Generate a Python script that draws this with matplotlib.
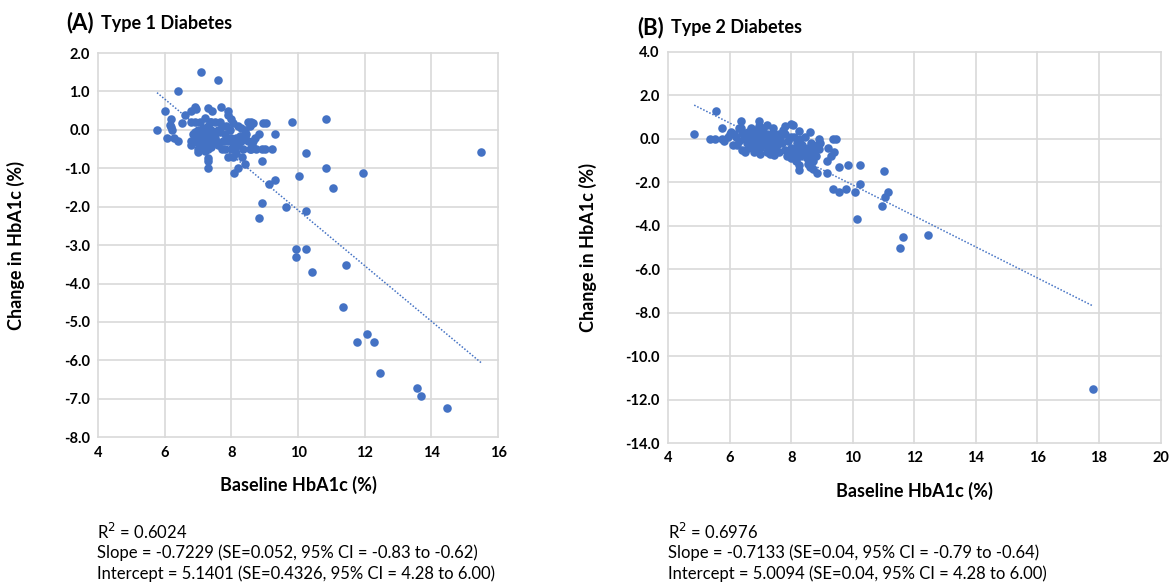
import matplotlib
matplotlib.use("Agg")
import matplotlib.pyplot as plt
import numpy as np

# ---------------- Data: Type 1 Diabetes ----------------
t1_baseline = [
    5.77, 6.0, 6.4, 7.09, 7.59, 6.18, 6.2, 6.15, 6.22, 6.08, 6.29, 6.4, 6.51, 6.6, 6.8, 6.9, 6.95,
    6.8, 6.9, 6.8, 6.8, 7.0, 7.29, 7.29, 7.29, 7.29, 7.41, 7.7, 7.91, 7.91, 8.0, 8.05, 7.4, 7.52,
    7.65, 7.71, 7.71, 7.91, 8.21, 8.31, 8.42, 8.19, 8.09, 8.66, 8.94, 9.04, 8.63, 8.73, 8.93, 9.22,
    8.93, 8.83, 9.32, 9.82, 10.23, 10.03, 9.32, 9.14, 8.92, 9.63, 10.23, 8.82, 10.84, 10.84, 11.95,
    11.04, 9.93, 10.23, 9.93, 10.43, 11.45, 11.35, 12.06, 11.76, 12.27, 12.47, 13.58, 13.68, 14.48,
    15.49,
    7.0, 7.05, 7.1, 7.15, 7.2, 7.25, 7.3, 7.35, 7.2, 7.1, 7.3, 7.4, 7.45, 7.5, 7.55, 7.4, 7.3, 7.2,
    7.0, 6.95, 6.9, 7.15, 7.6, 7.65, 7.8, 7.85, 7.9, 8.0, 8.05, 8.1, 8.2, 8.3, 8.35, 8.4, 8.5, 8.55,
    8.45, 8.55, 8.6, 8.5, 8.4, 8.25, 8.15, 8.0, 7.8, 7.75, 7.6, 7.85, 7.95, 8.3, 7.0, 6.85, 7.05,
    7.2, 7.35, 8.15, 8.05, 8.6, 8.65, 8.7, 9.0,
]
t1_change = [
    0.0, 0.5, 1.0, 1.5, 1.3, 0.29, 0.08, 0.12, 0.0, -0.2, -0.2, -0.3, 0.19, 0.4, 0.5, 0.6, 0.55,
    0.2, 0.2, -0.28, -0.39, -0.58, -0.72, -0.81, -1.0, 0.58, 0.5, 0.59, 0.5, 0.39, 0.29, 0.19, 0.2, 0.2,
    0.2, 0.09, -0.5, -0.71, 0.09, -0.71, -0.9, -1.0, -1.11, 0.19, 0.19, 0.19, -0.4, -0.5, -0.5, -0.5,
    -0.81, -0.1, -0.1, 0.2, -0.6, -1.2, -1.3, -1.4, -1.91, -2.0, -2.1, -2.3, 0.29, -1.0, -1.11,
    -1.5, -3.1, -3.1, -3.32, -3.71, -3.52, -4.62, -5.3, -5.52, -5.52, -6.32, -6.72, -6.93, -7.23,
    -0.57,
    0.0, -0.1, -0.2, 0.05, -0.05, -0.15, -0.25, -0.35, -0.4, -0.3, 0.1, 0.0, -0.1, -0.2, -0.3, -0.45, -0.5, -0.55,
    -0.35, -0.2, -0.05, -0.45, -0.4, -0.05, -0.1, -0.25, -0.3, -0.2, -0.35, -0.5, -0.4, -0.3, -0.5, -0.2, -0.3, -0.5,
    -0.1, 0.1, 0.2, 0.2, 0.0, -0.15, -0.2, -0.5, -0.5, -0.3, 0.0, 0.1, 0.0, 0.05, -0.5, -0.1, 0.2,
    0.3, 0.2, -0.6, -0.7, -0.5, -0.3, -0.2, -0.5,
]
t1_slope, t1_intercept = -0.7229, 5.1401
t1_stats = ["R$^2$ = 0.6024",
            "Slope = -0.7229 (SE=0.052, 95% CI = -0.83 to -0.62)",
            "Intercept = 5.1401 (SE=0.4326, 95% CI = 4.28 to 6.00)"]

# ---------------- Data: Type 2 Diabetes ----------------
t2_baseline = [
    4.85, 5.56, 5.35, 5.54, 5.76, 5.81, 5.76, 6.05, 6.13, 6.0, 6.37, 6.96, 6.37, 8.0, 8.05, 8.25,
    8.6, 7.8, 7.8, 8.27, 8.6, 8.7, 8.85, 9.17, 8.9, 8.95, 8.85, 8.9, 9.36, 9.46, 9.2, 9.3, 9.15,
    9.4, 9.55, 9.84, 10.25, 11.03, 10.24, 9.36, 9.55, 9.77, 10.06, 11.14, 11.06, 10.96, 10.15,
    11.63, 11.55, 12.44, 17.79,
    6.2, 6.3, 6.25, 6.4, 6.45, 6.5, 6.55, 6.6, 6.6, 6.65, 6.7, 6.75, 6.8, 6.8, 6.85, 6.9, 6.95,
    7.0, 7.0, 7.05, 7.1, 7.15, 7.2, 7.2, 7.25, 7.3, 7.35, 7.4, 7.45, 7.5, 7.55, 7.6, 7.65, 7.7,
    7.5, 7.3, 7.0, 6.5, 6.4, 6.7, 7.1, 7.4, 7.75, 7.8, 7.9, 7.85, 8.0, 8.1, 8.15, 8.0, 8.2, 8.3,
    8.35, 8.4, 8.5, 8.55, 8.6, 8.7, 8.65, 8.75, 8.8, 8.2, 8.1, 8.3, 8.45, 8.0, 7.9, 6.1, 6.3,
    5.95, 6.85, 7.25, 7.6, 7.45, 6.95, 7.2, 8.25, 8.55,
]
t2_change = [
    0.2, 1.3, 0.0, 0.0, 0.0, -0.1, 0.52, 0.3, 0.2, 0.2, 0.8, 0.8, 0.49, 0.7, 0.65, 0.34,
    0.3, 0.6, 0.2, -1.43, -1.28, -1.4, -1.58, -1.58, 0.0, -0.2, -0.3, -0.45, 0.0, 0.0, -0.4, -0.8, -1.0,
    -0.6, -1.3, -1.2, -1.2, -1.5, -2.09, -2.3, -2.47, -2.29, -2.47, -2.47, -2.7, -3.09, -3.7,
    -4.53, -5.02, -4.42, -11.52,
    0.1, -0.1, -0.3, -0.5, 0.2, 0.0, -0.2, -0.4, 0.3, 0.1, -0.1, -0.3, -0.6, 0.4, 0.2, 0.0, -0.2,
    -0.4, 0.3, 0.1, -0.1, -0.3, -0.6, 0.2, 0.0, -0.2, -0.4, 0.3, 0.1, -0.1, -0.3, 0.2, 0.0, -0.2,
    -0.5, -0.7, -0.7, -0.6, 0.3, 0.5, 0.5, 0.5, 0.4, -0.5, -0.6, -0.8, -0.9, -0.7, -1.0, -0.4, -0.5, -0.8,
    -0.3, -0.6, -0.9, -0.4, -0.7, -1.0, -0.2, -0.5, -0.8, -0.2, 0.1, 0.0, 0.1, 0.1, -0.1, -0.3, 0.5,
    0.1, -0.45, -0.45, -0.6, -0.75, 0.6, 0.65, -1.2, -1.15,
]
t2_slope, t2_intercept = -0.7133, 5.0094
t2_stats = ["R$^2$ = 0.6976",
            "Slope = -0.7133 (SE=0.04, 95% CI = -0.79 to -0.64)",
            "Intercept = 5.0094 (SE=0.04, 95% CI = 4.28 to 6.00)"]

BLUE = "#4472C4"
GRID = "#D9D9D9"
FONT = ["Lato", "DejaVu Sans"]
plt.rcParams["font.family"] = FONT

fig = plt.figure(figsize=(11.71, 5.83), dpi=100)
axA = fig.add_axes([0.0837, 0.250, 0.3416, 0.659])
axB = fig.add_axes([0.5705, 0.240, 0.4206, 0.671])


def style(ax, xs, ys, slope, intercept, xlim, ylim, xstep, ystep, ylabpad):
    ax.scatter(xs, ys, s=38, color=BLUE, zorder=3, linewidths=0)
    xl = np.array([min(xs), max(xs)])
    ax.plot(xl, slope * xl + intercept, linestyle=(0, (1, 1.2)), color=BLUE, lw=1.1, zorder=2)
    ax.set_xlim(*xlim)
    ax.set_ylim(*ylim)
    ax.set_xticks(np.arange(xlim[0], xlim[1] + 0.01, xstep))
    ax.set_yticks(np.arange(ylim[0], ylim[1] + 0.01, ystep))
    ax.set_xticklabels([f"{int(v)}" for v in ax.get_xticks()], fontsize=10.5, fontweight="bold")
    ax.set_yticklabels([f"{v:.1f}" for v in ax.get_yticks()], fontsize=10.5, fontweight="bold")
    ax.tick_params(length=0, pad=6)
    for sp in ax.spines.values():
        sp.set_visible(False)
    ax.grid(True, color=GRID, lw=1.2, zorder=0)
    ax.set_axisbelow(True)
    ax.set_xlabel("Baseline HbA1c (%)", fontsize=13, fontweight="bold", labelpad=12)
    ax.set_ylabel("Change in HbA1c (%)", fontsize=13, fontweight="bold", labelpad=ylabpad)


style(axA, t1_baseline, t1_change, t1_slope, t1_intercept, (4, 16), (-8, 2), 2, 1, 28)
style(axB, t2_baseline, t2_change, t2_slope, t2_intercept, (4, 20), (-14, 4), 2, 2, 20)

for gl in axA.get_ygridlines() + axA.get_xgridlines() + axB.get_ygridlines() + axB.get_xgridlines():
    gl.set_clip_on(False)

# Titles
fig.text(66 / 1171, 1 - 23 / 583, "(A)", fontsize=16, fontweight="bold", va="center", ha="left")
fig.text(101 / 1171, 1 - 23 / 583, "Type 1 Diabetes", fontsize=13, fontweight="bold", va="center", ha="left")
fig.text(637 / 1171, 1 - 28 / 583, "(B)", fontsize=16, fontweight="bold", va="center", ha="left")
fig.text(671 / 1171, 1 - 28 / 583, "Type 2 Diabetes", fontsize=13, fontweight="bold", va="center", ha="left")

# Stats text
for x0, lines in [(97, t1_stats), (668, t2_stats)]:
    for i, line in enumerate(lines):
        fig.text(x0 / 1171, 1 - (532 + i * 21) / 583, line, fontsize=12, va="center", ha="left")

fig.savefig("out.png", dpi=100)
